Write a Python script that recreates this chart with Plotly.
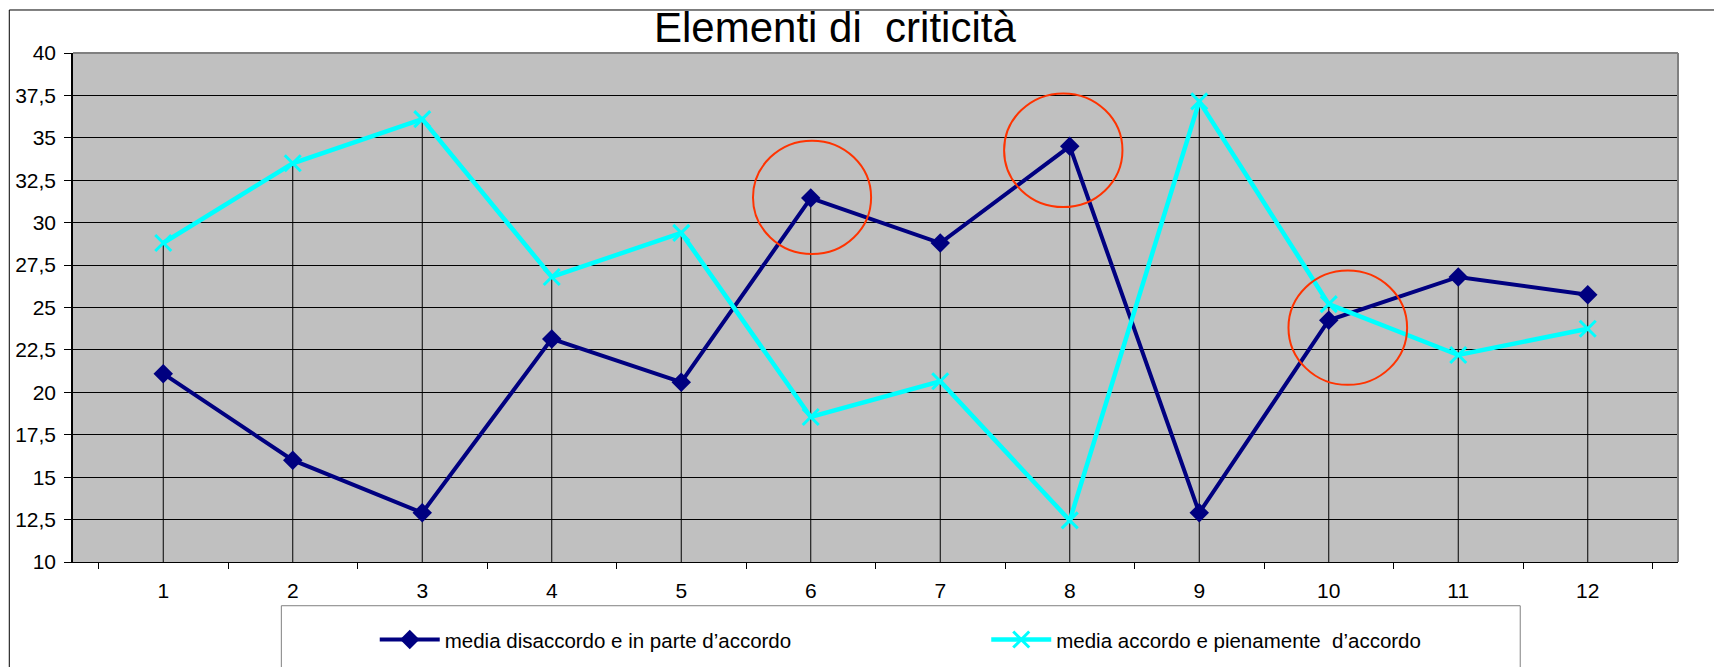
import plotly.graph_objects as go

# data
categories = [str(i) for i in range(1, 13)]
disaccordo = [21.1, 16.0, 12.9, 23.15, 20.6, 31.45, 28.8, 34.5, 12.9, 24.25, 26.8, 25.75]
accordo = [28.8, 33.5, 36.1, 26.8, 29.4, 18.55, 20.65, 12.45, 37.15, 25.2, 22.2, 23.75]
name_dis = "media disaccordo e in parte d\u2019accordo"
name_acc = "media accordo e pienamente  d\u2019accordo"
title_text = "Elementi di  criticit\u00e0"
ytick_vals = [10, 12.5, 15, 17.5, 20, 22.5, 25, 27.5, 30, 32.5, 35, 37.5, 40]

# red circles drawn by hand around some points: (category index, value, half width, half height)
highlights = [(5.01, 31.49, 0.456, 3.34), (6.95, 34.27, 0.457, 3.35), (9.147, 23.81, 0.458, 3.37)]

FONT = "Arial, Liberation Sans, sans-serif"

# excel style drop lines from the highest point down to the axis
drop_x, drop_y = [], []
for c, a, b in zip(categories, disaccordo, accordo):
    drop_x += [c, c, None]
    drop_y += [10, max(a, b), None]

fig = go.Figure()
fig.add_trace(go.Scatter(x=drop_x, y=drop_y, mode="lines",
                         line=dict(color="black", width=1),
                         showlegend=False, hoverinfo="skip"))
fig.add_trace(go.Scatter(x=categories, y=disaccordo, name=name_dis,
                         mode="lines+markers",
                         line=dict(color="#000080", width=4),
                         marker=dict(symbol="diamond", size=15, color="#000080"),
                         legend="legend"))
fig.add_trace(go.Scatter(x=categories, y=accordo, name=name_acc,
                         mode="lines+markers",
                         line=dict(color="#00FFFF", width=4.5),
                         marker=dict(symbol="x-thin", size=16,
                                     line=dict(color="#00FFFF", width=3)),
                         legend="legend2"))

shapes = []
for cx, cy, hw, hh in highlights:
    shapes.append(dict(type="circle", xref="x", yref="y",
                       x0=cx - hw, x1=cx + hw, y0=cy - hh, y1=cy + hh,
                       line=dict(color="#FF3300", width=2)))
# grey border on top and right of the plot area
shapes.append(dict(type="line", xref="x domain", yref="y domain", x0=0, x1=1, y0=1, y1=1,
                   line=dict(color="#808080", width=2)))
shapes.append(dict(type="line", xref="x domain", yref="y domain", x0=1, x1=1, y0=0, y1=1,
                   line=dict(color="#808080", width=2)))
# outer chart border and legend box
shapes.append(dict(type="rect", xref="paper", yref="paper", x0=-0.0397, x1=1.2, y0=-0.4, y1=1.0845,
                   line=dict(color="black", width=1), layer="below"))
shapes.append(dict(type="rect", xref="paper", yref="paper", x0=0.1298, x1=0.9017, y0=-0.4, y1=-0.0859,
                   line=dict(color="#808080", width=1), fillcolor="white", layer="below"))

# the page body adds an 8px margin, so the figure is 8px smaller
fig.update_layout(
    width=1714, height=659,
    margin=dict(l=65, r=44, t=45, b=105, autoexpand=False),
    paper_bgcolor="white", plot_bgcolor="#C0C0C0",
    separators=",.",
    font=dict(family=FONT, size=21, color="black"),
    shapes=shapes,
    annotations=[dict(text=title_text, xref="paper", yref="paper", x=0.475, y=1.05,
                      xanchor="center", yanchor="middle", showarrow=False,
                      font=dict(size=42, family=FONT, color="black"))],
    legend=dict(orientation="h", x=0.188, y=-0.1527, xanchor="left", yanchor="middle",
                itemwidth=60, bgcolor="rgba(0,0,0,0)", font=dict(size=20.5, family=FONT)),
    legend2=dict(orientation="h", x=0.569, y=-0.1527, xanchor="left", yanchor="middle",
                 itemwidth=60, bgcolor="rgba(0,0,0,0)", font=dict(size=20.5, family=FONT)),
    xaxis=dict(type="category", tickson="boundaries", ticks="outside", ticklen=6,
               tickcolor="black", showgrid=False, showline=True, linecolor="black",
               linewidth=1, zeroline=False, tickfont=dict(size=21), ticklabelstandoff=10),
    yaxis=dict(range=[10, 40], tickvals=ytick_vals, ticks="outside", ticklen=7,
               tickcolor="black", showgrid=True, gridcolor="black", gridwidth=1,
               showline=True, linecolor="black", linewidth=1.5, zeroline=False,
               tickfont=dict(size=21), ticklabelstandoff=4),
)

fig.write_html("out.html")
